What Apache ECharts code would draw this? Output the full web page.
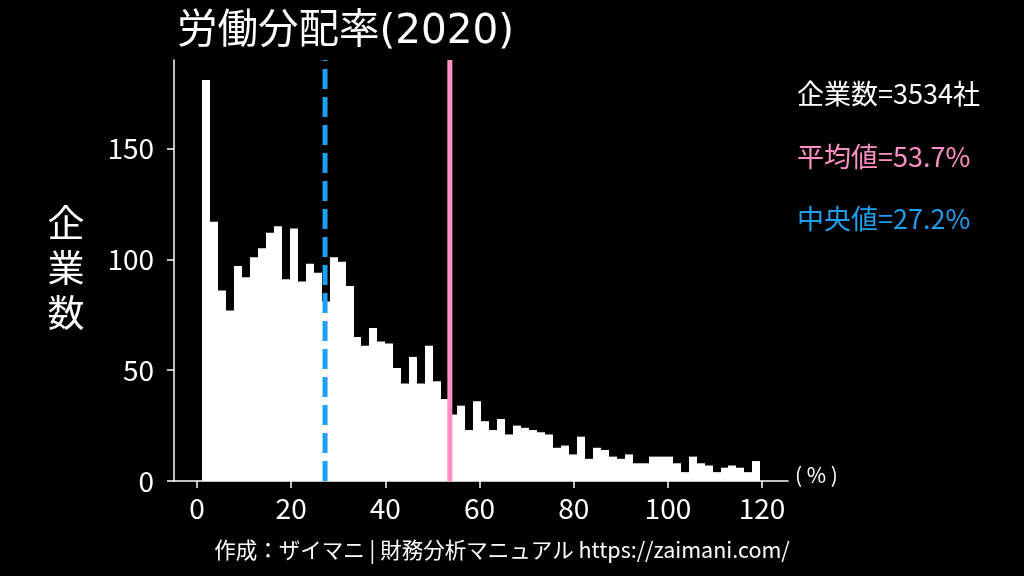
<!DOCTYPE html>
<html>
<head>
<meta charset="utf-8">
<script src="https://cdn.jsdelivr.net/npm/echarts@6/dist/echarts.min.js"></script>
<style>
html,body{margin:0;padding:0;background:#000;}
#chart{width:1024px;height:576px;}
</style>
</head>
<body>
<div id="chart"></div>
<script>
// Histogram of 労働分配率 (2020), 70 bins
const binStart = 1.06;
const binWidth = 1.694;
const counts = [
  181,117,86,77,97,92,101,105,112,115,
  91,114,90,98,94,81,101,99,88,65,
  61,69,63,62,51,44,56,44,61,45,
  37,30,34,23,36,27,23,28,21,25,
  24,23,22,21,15,16,12,20,10,15,
  14,11,10,12,8,8,11,11,11,8,
  4,11,8,7,4,6,7,6,4,9
];
const meanValue = [53.7];
const medianValue = [27.2];
const companyCount = [3534];
const xTicks = [0,20,40,60,80,100,120];
const yTicks = [0,50,100,150];

const FONT = "'Noto Sans CJK JP','Noto Sans',sans-serif";
const TFONT = "'DejaVu Sans','Noto Sans CJK JP',sans-serif";
const PINK = '#ff8fc4';
const BLUE = '#1e9fef';

const bins = counts.map((c,i)=>[binStart + i*binWidth, binStart + (i+1)*binWidth, c]);

const chart = echarts.init(document.getElementById('chart'));
chart.setOption({
  backgroundColor:'#000',
  animation:false,
  grid:{left:174,right:236,top:60,bottom:95},
  xAxis:{
    type:'value', min:-4.87, max:125.5,
    splitLine:{show:false},
    axisLine:{show:true,onZero:false,lineStyle:{color:'#fff',width:1.5}},
    axisTick:{show:true,length:7,lineStyle:{color:'#fff',width:1.5},customValues:xTicks},
    axisLabel:{color:'#fff',fontSize:28,fontFamily:FONT,margin:13,customValues:xTicks}
  },
  yAxis:{
    type:'value', min:0, max:190,
    splitLine:{show:false},
    axisLine:{show:true,onZero:false,lineStyle:{color:'#fff',width:1.5}},
    axisTick:{show:true,length:7,lineStyle:{color:'#fff',width:1.5},customValues:yTicks},
    axisLabel:{color:'#fff',fontSize:28,fontFamily:FONT,margin:20,customValues:yTicks}
  },
  series:[
    {
      type:'custom',
      data:bins,
      encode:{x:[0,1],y:2},
      renderItem:function(params,api){
        const p0 = api.coord([api.value(0), api.value(2)]);
        const p1 = api.coord([api.value(1), 0]);
        const xa = Math.round(p0[0]);
        const xb = Math.round(p1[0]);
        return {type:'rect',shape:{x:xa,y:p0[1],width:xb-xa,height:p1[1]-p0[1]},
          style:{fill:'#fff'}};
      },
      z:2
    },
    {
      type:'line', data:[[medianValue[0],0],[medianValue[0],190]],
      symbol:'none', lineStyle:{color:BLUE,width:5,type:[20,8]}, z:3
    },
    {
      type:'line', data:[[meanValue[0],0],[meanValue[0],190]],
      symbol:'none', lineStyle:{color:PINK,width:5}, z:3
    }
  ],
  graphic:[
    {type:'text',x:177,y:32,style:{text:'労働分配率(2020)',fill:'#fff',font:'40.5px '+TFONT,textAlign:'left',textVerticalAlign:'middle'}},
    {type:'text',x:66,y:268,style:{text:'企\n業\n数',fill:'#fff',font:'37px '+FONT,lineHeight:45,textAlign:'center',textVerticalAlign:'middle'}},
    {type:'text',x:797,y:94,style:{text:'企業数='+companyCount[0]+'社',fill:'#fff',font:'27px '+FONT,textAlign:'left',textVerticalAlign:'middle'}},
    {type:'text',x:797,y:157,style:{text:'平均値='+meanValue[0]+'%',fill:PINK,font:'27px '+FONT,textAlign:'left',textVerticalAlign:'middle'}},
    {type:'text',x:797,y:219,style:{text:'中央値='+medianValue[0]+'%',fill:BLUE,font:'27px '+FONT,textAlign:'left',textVerticalAlign:'middle'}},
    {type:'text',x:795,y:475,style:{text:'( % )',fill:'#fff',font:'21px '+FONT,textAlign:'left',textVerticalAlign:'middle'}},
    {type:'text',x:502,y:550,style:{text:'作成：ザイマニ | 財務分析マニュアル https://zaimani.com/',fill:'#fff',font:'21.5px '+FONT,textAlign:'center',textVerticalAlign:'middle'}}
  ]
});
</script>
</body>
</html>
